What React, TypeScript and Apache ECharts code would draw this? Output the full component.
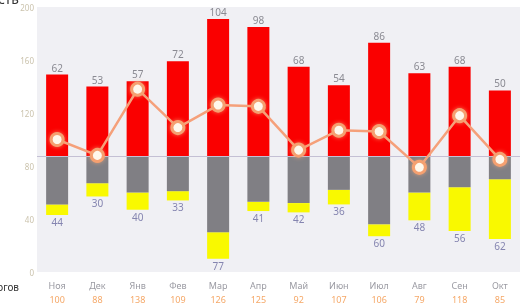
import React, { useEffect, useRef } from 'react';
import * as echarts from 'echarts';

const months = ['Ноя', 'Дек', 'Янв', 'Фев', 'Мар', 'Апр', 'Май', 'Июн', 'Июл', 'Авг', 'Сен', 'Окт'];
const upValues = [62, 53, 57, 72, 104, 98, 68, 54, 86, 63, 68, 50];
const downTotal = [44, 30, 40, 33, 77, 41, 42, 36, 60, 48, 56, 62];
const grayValues = [36, 20, 27, 26, 57, 34, 35, 25, 51, 27, 23, 17];
const lineValues = [100, 88, 138, 109, 126, 125, 92, 107, 106, 79, 118, 85];
const baseline = 87;
const yTicks = { min: 0, max: 200, interval: 40 };

const FONT = 'Noto Sans';

export default function App() {
  const ref = useRef<HTMLDivElement>(null);
  useEffect(() => {
    const chart = echarts.init(ref.current!, null, { renderer: 'svg' });
    const yellowValues = downTotal.map((d, i) => d - grayValues[i]);
    const baseValues = downTotal.map((d) => baseline - d);
    chart.setOption({
      animation: false,
      textStyle: { fontFamily: FONT },
      grid: {
        left: 37,
        width: 492,
        top: 7,
        height: 265,
        show: true,
        backgroundColor: '#f0f0f4',
        borderWidth: 0,
      },
      graphic: [
        {
          type: 'text',
          x: 19,
          y: 5,
          style: {
            text: 'Доходность',
            fontSize: 14,
            fontFamily: FONT,
            fill: '#333',
            align: 'right',
            verticalAlign: 'bottom',
          },
        },
        {
          type: 'text',
          x: 19,
          y: 287,
          style: {
            text: 'Итогов',
            fontSize: 10,
            fontFamily: FONT,
            fill: '#333',
            align: 'right',
            verticalAlign: 'middle',
          },
        },
      ],
      xAxis: {
        type: 'category',
        data: months,
        axisLine: { show: false },
        axisTick: { show: false },
        axisLabel: {
          interval: 0,
          margin: 6,
          formatter: (v: string, i: number) => `{a|${v}}\n{b|${lineValues[i]}}`,
          rich: {
            a: { color: '#9a9aa2', fontSize: 9, lineHeight: 14, fontFamily: FONT },
            b: { color: '#f5a868', fontSize: 9, lineHeight: 14, fontFamily: FONT },
          },
        },
      },
      yAxis: {
        type: 'value',
        min: yTicks.min,
        max: yTicks.max,
        interval: yTicks.interval,
        axisLine: { show: false },
        axisTick: { show: false },
        splitLine: { show: false },
        axisLabel: { color: '#cbc3ad', fontSize: 8, margin: 3 },
      },
      series: [
        {
          type: 'bar',
          stack: 'total',
          data: baseValues,
          barWidth: 22,
          itemStyle: { color: 'transparent' },
          markLine: {
            silent: true,
            symbol: 'none',
            label: { show: false },
            lineStyle: { color: '#c4c0d4', width: 1, type: 'solid' },
            data: [{ yAxis: baseline }],
          },
        },
        {
          type: 'bar',
          stack: 'total',
          data: yellowValues,
          barWidth: 22,
          itemStyle: { color: '#f9f900' },
          label: {
            show: true,
            position: 'bottom',
            distance: 2,
            color: '#8585b0',
            fontSize: 10,
            formatter: (p: any) => String(downTotal[p.dataIndex]),
          },
        },
        {
          type: 'bar',
          stack: 'total',
          data: grayValues,
          barWidth: 22,
          itemStyle: { color: '#807f84' },
        },
        {
          type: 'bar',
          stack: 'total',
          data: upValues,
          barWidth: 22,
          itemStyle: { color: '#fa0000' },
          label: {
            show: true,
            position: 'top',
            distance: 2,
            color: '#8a8a92',
            fontSize: 10,
          },
        },
        {
          type: 'line',
          data: lineValues,
          z: 5,
          symbol: 'circle',
          symbolSize: 12,
          lineStyle: { color: '#f5a07a', width: 2.5 },
          itemStyle: {
            color: '#fff8ec',
            borderColor: '#f5a070',
            borderWidth: 3,
            shadowColor: 'rgba(245,170,120,0.7)',
            shadowBlur: 4,
          },
        },
      ],
    });
    return () => chart.dispose();
  }, []);
  return <div ref={ref} style={{ position: 'fixed', left: 0, top: 0, width: 520, height: 304 }} />;
}
